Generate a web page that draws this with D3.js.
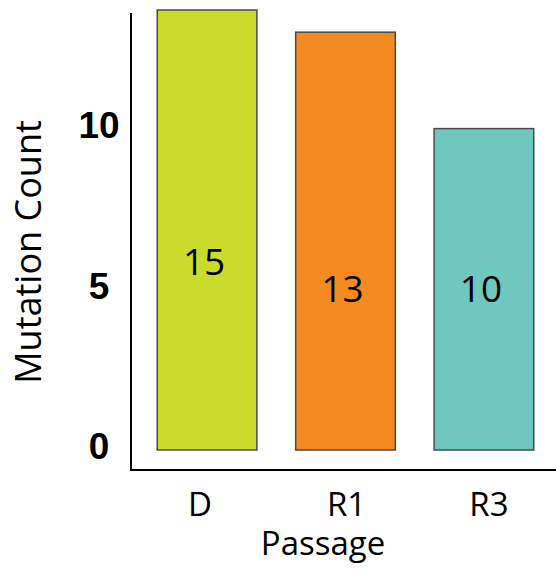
<!DOCTYPE html>
<html>
<head>
<meta charset="utf-8">
<script src="https://cdn.jsdelivr.net/npm/d3@7"></script>
<style>
  html, body { margin: 0; padding: 0; background: #fff; }
  svg { display: block; }
</style>
</head>
<body>
<svg id="chart" width="556" height="571"></svg>
<script>
// ---- data ----
const categories = ["D", "R1", "R3"];
const mutationCounts = [15, 13, 10];
const barColors = ["#CBDB2B", "#F58B20", "#6EC8BF"];
const yTickValues = [0, 5, 10];
const labelLevels = [5.85, 5, 5]; // where the count labels sit, in data units
const yMax = 13.69;
const xTitle = "Passage";
const yTitle = "Mutation Count";

// ---- layout ----
const svg = d3.select("#chart");
const x = d3.scaleBand().domain(categories).range([118.5, 572.5]).paddingInner(0.28).paddingOuter(0.28);
const y = d3.scaleLinear().domain([0, yMax]).range([450, 10]);
const axisX = 131, axisY = 470;

const sans = "'Open Sans', 'Noto Sans', sans-serif";

// bars
svg.append("g").selectAll("rect")
  .data(categories)
  .join("rect")
  .attr("x", d => x(d))
  .attr("width", x.bandwidth())
  .attr("y", (d, i) => y(Math.min(mutationCounts[i], yMax)))
  .attr("height", (d, i) => y(0) - y(Math.min(mutationCounts[i], yMax)))
  .attr("fill", (d, i) => barColors[i])
  .attr("stroke", "#4a4a4a")
  .attr("stroke-width", 1.5);

// bar labels
svg.append("g").selectAll("text")
  .data(categories)
  .join("text")
  .attr("x", d => x(d) + x.bandwidth() / 2 - 3)
  .attr("y", (d, i) => y(labelLevels[i]))
  .attr("dy", "0.35em")
  .attr("text-anchor", "middle")
  .style("font-family", sans)
  .style("font-size", "37px")
  .attr("fill", "#000")
  .text((d, i) => mutationCounts[i]);

// y axis (ticks)
const gy = svg.append("g")
  .attr("transform", `translate(${axisX},0)`)
  .call(d3.axisLeft(y).tickValues(yTickValues).tickSize(0).tickFormat(d3.format("d")));
gy.select(".domain").remove();
gy.selectAll("text")
  .attr("x", -32)
  .attr("dy", "0.24em")
  .attr("text-anchor", "middle")
  .attr("fill", "#000")
  .style("font-family", "'Liberation Sans', Arial, sans-serif")
  .style("font-weight", "bold")
  .style("font-size", "37px");

// x axis (ticks)
const gx = svg.append("g")
  .attr("transform", `translate(0,${axisY})`)
  .call(d3.axisBottom(x).tickSize(0));
gx.select(".domain").remove();
gx.selectAll("text")
  .attr("x", (d, i) => [-7, 1, 5][i])
  .attr("y", 46)
  .attr("dy", 0)
  .attr("fill", "#000")
  .style("font-family", sans)
  .style("font-size", "33px");

// axis lines
svg.append("path")
  .attr("d", `M${axisX},13V${axisY}H556`)
  .attr("fill", "none")
  .attr("stroke", "#000")
  .attr("stroke-width", 2);

// titles
svg.append("text")
  .attr("x", 323)
  .attr("y", 555)
  .attr("text-anchor", "middle")
  .style("font-family", sans)
  .style("font-size", "33px")
  .attr("fill", "#000")
  .text(xTitle);

svg.append("text")
  .attr("transform", "translate(41,252) rotate(-90)")
  .attr("text-anchor", "middle")
  .style("font-family", sans)
  .style("font-size", "36px")
  .attr("fill", "#000")
  .text(yTitle);
</script>
</body>
</html>
